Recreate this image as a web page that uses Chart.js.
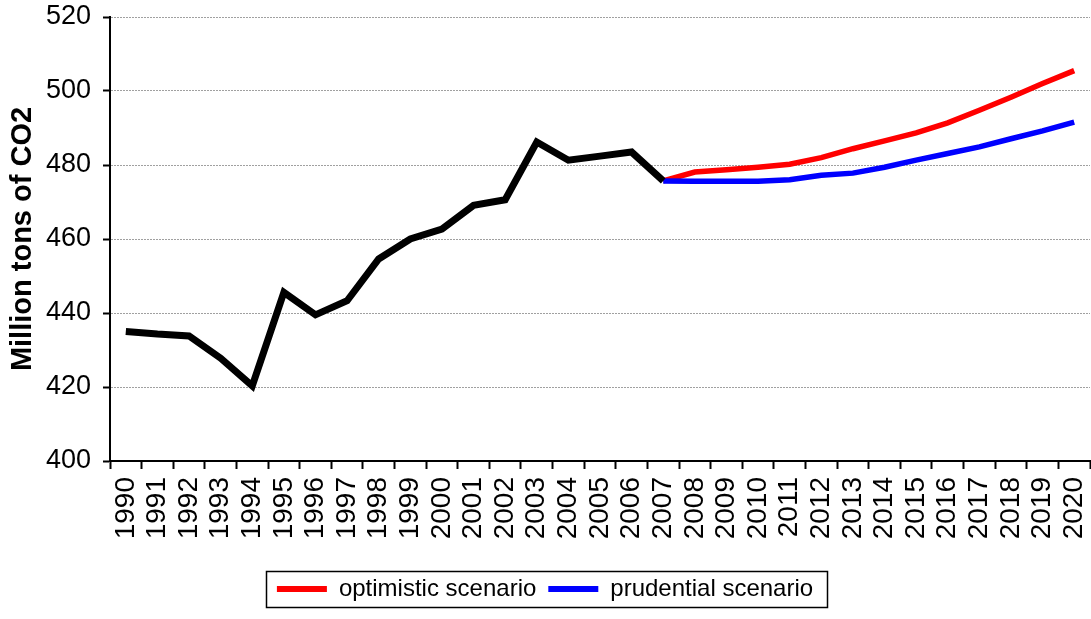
<!DOCTYPE html>
<html><head><meta charset="utf-8">
<script src="https://cdn.jsdelivr.net/npm/chart.js@4"></script>
<style>html,body{margin:0;padding:0;background:#fff}#wrap{width:1091px;height:619px}</style>
</head><body><div id="wrap"><canvas id="c" width="1091" height="619"></canvas></div>
<script>
const years = ['1990','1991','1992','1993','1994','1995','1996','1997','1998','1999','2000','2001','2002','2003','2004','2005','2006','2007','2008','2009','2010','2011','2012','2013','2014','2015','2016','2017','2018','2019','2020'];
const historical = [435.0,434.3,433.8,427.8,420.3,445.6,439.5,443.3,454.6,460.0,462.7,469.1,470.6,486.2,481.3,482.4,483.5,475.7,null,null,null,null,null,null,null,null,null,null,null,null,null];
const optimistic = [null,null,null,null,null,null,null,null,null,null,null,null,null,null,null,null,null,475.7,478.1,478.7,479.4,480.2,482.0,484.4,486.5,488.7,491.4,494.8,498.3,502.0,505.5];
const prudential = [null,null,null,null,null,null,null,null,null,null,null,null,null,null,null,null,null,475.7,475.6,475.6,475.6,476.0,477.2,477.8,479.4,481.3,483.1,484.9,487.1,489.2,491.6];
const yTicks = [400,420,440,460,480,500,520];
const seriesNames = ['historical','optimistic scenario','prudential scenario'];
const yTitle = 'Million tons of CO2';

const legendBox = {
  id:'legendBox',
  afterDraw(chart){
    const lg = chart.legend; if(!lg || !lg.legendHitBoxes || !lg.legendHitBoxes.length) return;
    const hb = lg.legendHitBoxes;
    const x0 = Math.min(...hb.map(h=>h.left)), x1 = Math.max(...hb.map(h=>h.left+h.width));
    const y0 = Math.min(...hb.map(h=>h.top)), y1 = Math.max(...hb.map(h=>h.top+h.height));
    const ctx = chart.ctx; ctx.save(); ctx.strokeStyle='#000'; ctx.lineWidth=1.5;
    ctx.strokeRect(Math.round(x0-11)+0.5, Math.round(y0-6)+0.5, Math.round(x1-x0+25), Math.round(y1-y0+12));
    ctx.restore();
  }
};
const noPad = (s)=>{s.paddingLeft=0;s.paddingRight=0;s.paddingTop=0;s.paddingBottom=0;};

new Chart(document.getElementById('c'), {
  type:'line',
  data:{
    labels: years,
    datasets:[
      {label:seriesNames[0], data:historical, borderColor:'#000', backgroundColor:'#000', borderWidth:7, pointRadius:0, tension:0, order:0},
      {label:seriesNames[1], data:optimistic, borderColor:'#ff0000', backgroundColor:'#ff0000', borderWidth:5.5, pointRadius:0, tension:0, order:2},
      {label:seriesNames[2], data:prudential, borderColor:'#0000ff', backgroundColor:'#0000ff', borderWidth:5.5, pointRadius:0, tension:0, order:1}
    ]
  },
  options:{
    responsive:false, animation:false, devicePixelRatio:1,
    layout:{padding:{left:0,right:1,top:17,bottom:8}},
    plugins:{
      tooltip:{enabled:false},
      legend:{
        position:'bottom',
        labels:{
          filter:(item)=>item.datasetIndex!==0,
          boxWidth:50, boxHeight:6, padding:12,
          color:'#000', font:{family:'Liberation Sans, Arial', size:24},
          generateLabels:(chart)=>chart.data.datasets.map((d,i)=>({text:d.label, fillStyle:d.borderColor, strokeStyle:d.borderColor, lineWidth:0, datasetIndex:i, hidden:false}))
        }
      }
    },
    scales:{
      x:{
        type:'category', offset:true,
        grid:{offset:true, drawOnChartArea:false, drawTicks:true, tickLength:8, color:'#000', tickWidth:2},
        border:{color:'#000', width:2},
        ticks:{minRotation:90, maxRotation:90, autoSkip:false, padding:8, color:'#000', font:{family:'Liberation Sans, Arial', size:28}},
        afterFit:(s)=>{s.height=104; noPad(s);}
      },
      y:{
        min:400, max:520,
        afterBuildTicks:(s)=>{s.ticks = yTicks.map(v=>({value:v}));},
        grid:{color:'#a0a0a0', lineWidth:1, tickLength:7, tickColor:'#000', tickWidth:2, drawTicks:true},
        border:{color:'#000', width:2, dash:[2,1]},
        ticks:{padding:12, color:'#000', font:{family:'Liberation Sans, Arial', size:27}},
        title:{display:true, text:yTitle, color:'#000', font:{family:'Liberation Sans, Arial', size:29, weight:'bold'}, padding:{top:6,bottom:0}},
        afterFit:(s)=>{s.width=110; noPad(s);}
      }
    }
  },
  plugins:[legendBox]
});
</script></body></html>
